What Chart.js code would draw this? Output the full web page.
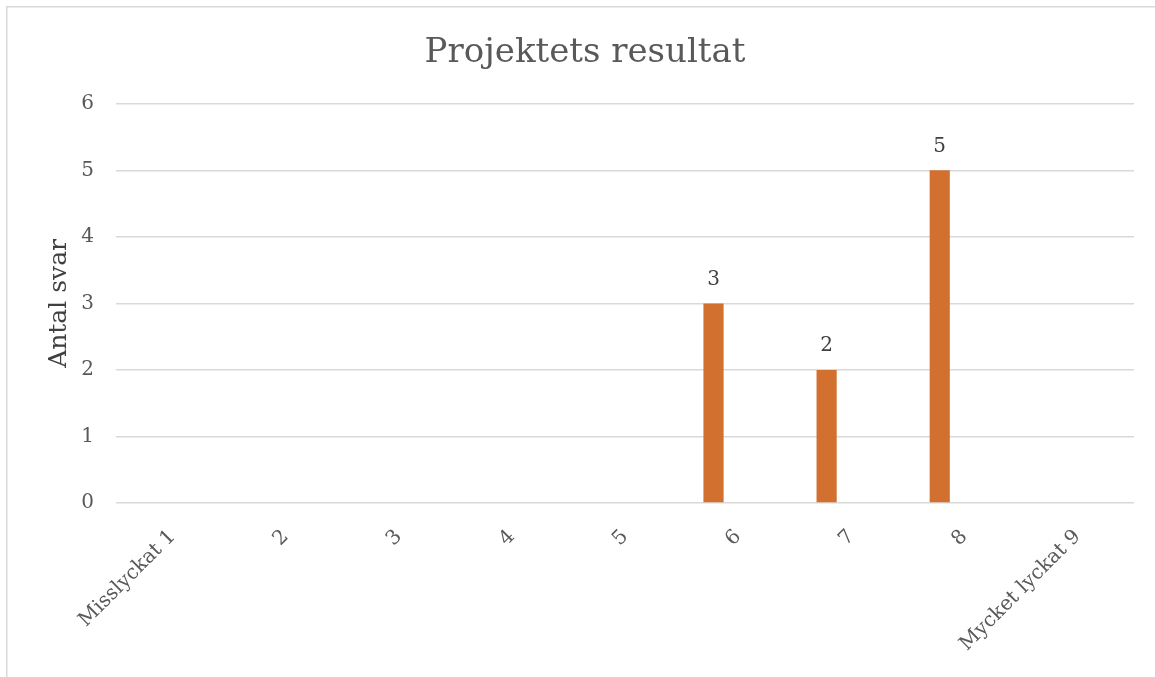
<!DOCTYPE html>
<html>
<head>
<meta charset="utf-8">
<script src="https://cdn.jsdelivr.net/npm/chart.js@4.4.1/dist/chart.umd.min.js"></script>
<style>
  html, body { margin: 0; padding: 0; background: #fff; overflow: hidden; }
  #wrap { position: absolute; left: 0; top: 0; width: 1155px; height: 677px; }
</style>
</head>
<body>
<div id="wrap"><canvas id="c" width="1155" height="677"></canvas></div>
<script>
const categories = ['Misslyckat 1', '2', '3', '4', '5', '6', '7', '8', 'Mycket lyckat 9'];
const antalSvar = [0, 0, 0, 0, 0, 3, 2, 5, 0];
const emptySeries = [null, null, null, null, null, null, null, null, null];
const yTicks = [0, 1, 2, 3, 4, 5, 6];

const FONT = "'DejaVu Serif', 'Liberation Serif', serif";

const framePlugin = {
  id: 'frame',
  beforeDraw(chart) {
    const ctx = chart.ctx;
    ctx.save();
    ctx.fillStyle = '#ffffff';
    ctx.fillRect(0, 0, chart.width, chart.height);
    ctx.strokeStyle = '#d9d9d9';
    ctx.lineWidth = 1.5;
    ctx.strokeRect(6.75, 6.75, 3000, 3000);
    ctx.restore();
  }
};

const labelPlugin = {
  id: 'barLabels',
  afterDatasetsDraw(chart) {
    const ctx = chart.ctx;
    const meta = chart.getDatasetMeta(0);
    ctx.save();
    ctx.font = "20px " + FONT;
    ctx.fillStyle = '#404040';
    ctx.textAlign = 'center';
    ctx.textBaseline = 'bottom';
    meta.data.forEach((bar, i) => {
      const v = antalSvar[i];
      if (v) ctx.fillText(String(v), bar.x, bar.y - 14);
    });
    ctx.restore();
  }
};

new Chart(document.getElementById('c'), {
  type: 'bar',
  data: {
    labels: categories,
    datasets: [
      { label: 'Antal svar', data: antalSvar, backgroundColor: '#D2702F', borderWidth: 0,
        categoryPercentage: 0.87, barPercentage: 0.41 },
      { label: '', data: emptySeries, backgroundColor: '#A5A5A5', borderWidth: 0,
        categoryPercentage: 0.87, barPercentage: 0.41 }
    ]
  },
  options: {
    responsive: false,
    animation: false,
    devicePixelRatio: 1,
    layout: { padding: { left: 36, right: 21, top: 0, bottom: 0 } },
    plugins: {
      legend: { display: false },
      tooltip: { enabled: false },
      title: {
        display: true,
        text: 'Projektets resultat',
        color: '#595959',
        font: { family: FONT, size: 34, weight: 'normal' },
        padding: { top: 33, bottom: 30 }
      }
    },
    scales: {
      x: {
        grid: { display: false, drawTicks: false },
        border: { display: false },
        ticks: {
          color: '#595959',
          font: { family: FONT, size: 20 },
          minRotation: 45, maxRotation: 45,
          padding: 22,
          autoSkip: false
        },
        afterFit(scale) { scale.height = 174; }
      },
      y: {
        min: 0, max: 6,
        afterBuildTicks(scale) { scale.ticks = yTicks.map(v => ({ value: v })); },
        grid: { color: '#d9d9d9', lineWidth: 1.5, drawTicks: false },
        border: { display: false },
        ticks: {
          color: '#595959',
          font: { family: FONT, size: 20 },
          padding: 22
        },
        title: {
          display: true,
          text: 'Antal svar',
          color: '#404040',
          font: { family: FONT, size: 25 },
          padding: { top: 8 }
        },
        afterFit(scale) { scale.width = 80; }
      }
    }
  },
  plugins: [framePlugin, labelPlugin]
});
</script>
</body>
</html>
